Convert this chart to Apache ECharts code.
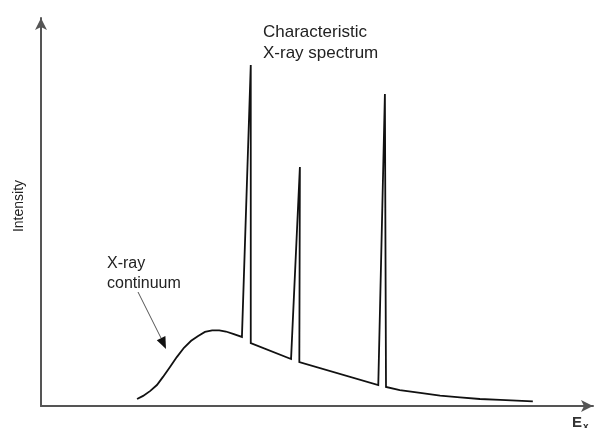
<!DOCTYPE html>
<html>
<head>
<meta charset="utf-8">
<style>
  html, body { margin: 0; padding: 0; background: #fff; }
  #chart { width: 598px; height: 428px; }
</style>
<script src="https://cdn.jsdelivr.net/npm/echarts@6/dist/echarts.min.js"></script>
</head>
<body>
<div id="chart"></div>
<script>
// Photon energy (relative units, 0–100) along the spectrum trace
const energy = [
  17.4, 18.5, 19.8, 21.0, 22.1, 23.4, 24.6, 25.9, 27.2, 28.4, 29.7, 31.0, 32.3, 33.5, 34.8, 36.4,
  38.0, 38.0,
  45.3, 46.9, 46.8,
  61.1, 62.3, 62.5,
  65.0, 68.7, 72.3, 75.9, 79.5, 83.2, 89.1
];
// Intensity (relative units, 0–100): bremsstrahlung hump plus three characteristic lines
const intensity = [
  1.8, 2.6, 3.9, 5.4, 7.5, 10.1, 12.6, 15.0, 16.8, 18.0, 19.1, 19.5, 19.5, 19.2, 18.6, 17.8,
  87.9, 16.2,
  12.1, 61.6, 11.3,
  5.4, 80.4, 4.9,
  4.1, 3.4, 2.7, 2.2, 1.8, 1.6, 1.2
];

const axisColor = '#555';
const textColor = '#222';
const font = '"Liberation Sans", Arial, Helvetica, sans-serif';

const chart = echarts.init(document.getElementById('chart'), null, { renderer: 'canvas' });

const spectrum = energy.map((e, i) => [e, intensity[i]]);

chart.setOption({
  animation: false,
  backgroundColor: '#fff',
  grid: { left: 41, right: 5, top: 18, bottom: 22 },
  xAxis: {
    type: 'value', min: 0, max: 100,
    axisLine: {
      show: true, onZero: false,
      symbol: ['none', 'arrow'], symbolSize: [9, 12],
      lineStyle: { color: axisColor, width: 2 }
    },
    axisTick: { show: false }, axisLabel: { show: false }, splitLine: { show: false }
  },
  yAxis: {
    type: 'value', min: 0, max: 100,
    axisLine: {
      show: true, onZero: false,
      symbol: ['none', 'arrow'], symbolSize: [9, 12],
      lineStyle: { color: axisColor, width: 2 }
    },
    axisTick: { show: false }, axisLabel: { show: false }, splitLine: { show: false }
  },
  series: [{
    type: 'line',
    data: spectrum,
    showSymbol: false,
    smooth: false,
    lineStyle: { color: '#111', width: 1.8, join: 'miter', miterLimit: 40 }
  }],
  graphic: [
    {
      type: 'text', x: 19, y: 206, rotation: Math.PI / 2,
      style: { text: 'Intensity', font: '14px ' + font, fill: textColor, align: 'center', verticalAlign: 'middle' }
    },
    {
      type: 'text', x: 263, y: 22,
      style: { text: 'Characteristic\nX-ray spectrum', font: '17px ' + font, lineHeight: 21, fill: textColor, align: 'left', verticalAlign: 'top' }
    },
    {
      type: 'text', x: 107, y: 254,
      style: { text: 'X-ray\ncontinuum', font: '16px ' + font, lineHeight: 20, fill: textColor, align: 'left', verticalAlign: 'top' }
    },
    {
      type: 'line',
      shape: { x1: 138, y1: 292, x2: 161, y2: 338 },
      style: { stroke: '#555', lineWidth: 1 }
    },
    {
      type: 'polygon',
      shape: { points: [[166, 349], [156.8, 340.3], [165.4, 336.0]] },
      style: { fill: '#111' }
    },
    {
      type: 'text', x: 572, y: 414,
      style: {
        text: '{e|E}{s|x}',
        rich: {
          e: { font: 'bold 15px ' + font, fill: '#333' },
          s: { font: 'bold 10px ' + font, fill: '#333', padding: [8, 0, 0, 1] }
        }
      }
    }
  ]
});
</script>
</body>
</html>
